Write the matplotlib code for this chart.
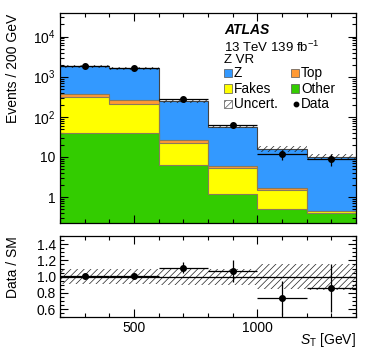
import numpy as np
import matplotlib
matplotlib.use("Agg")
import matplotlib.pyplot as plt
from matplotlib.ticker import FixedLocator, MultipleLocator, FuncFormatter, LogLocator, NullFormatter
from matplotlib.patches import Rectangle
from matplotlib.lines import Line2D

plt.rcParams['font.family'] = ['Liberation Sans', 'DejaVu Sans']
plt.rcParams['mathtext.fontset'] = 'custom'
plt.rcParams['mathtext.rm'] = 'Liberation Sans'
plt.rcParams['mathtext.it'] = 'Liberation Sans:italic'
plt.rcParams['mathtext.bf'] = 'Liberation Sans:bold'
plt.rcParams['hatch.linewidth'] = 0.5

# ---- data ----
bin_edges = [200, 400, 600, 800, 1000, 1200, 1400]
other = [40, 40, 6.3, 1.17, 0.49, 0.41]
fakes = [276, 163, 15.3, 4.0, 1.0, 0.03]
top = [54, 57, 5.4, 0.9, 0.15, 0.02]
zjets = [1430, 1360, 218, 50.9, 14.35, 9.74]
rel_unc = [0.09, 0.09, 0.10, 0.10, 0.15, 0.16]
data = [1810, 1630, 272, 61, 11.8, 8.8]
data_err = [42.5, 40.4, 16.5, 7.8, 3.4, 3.0]
legend_labels = ['Z', 'Fakes', 'Uncert.', 'Top', 'Other', 'Data']

col_z = '#3399ff'
col_top = '#ff9933'
col_fakes = '#ffff00'
col_other = '#33cc00'

FS = 10
LFS = 9.8

edges = np.array(bin_edges, dtype=float)
centers = 0.5 * (edges[1:] + edges[:-1])
halfw = 0.5 * (edges[1:] - edges[:-1])

W, H = 374, 359
fig = plt.figure(figsize=(W / 100, H / 100), dpi=100)
ax = fig.add_axes([60 / W, 1 - 222.7 / H, 296 / W, (222.7 - 13.3) / H])
rax = fig.add_axes([60 / W, 1 - 317.3 / H, 296 / W, (317.3 - 236) / H])

# ---- stack ----
comps = [(other, col_other), (fakes, col_fakes), (top, col_top), (zjets, col_z)]
cum = np.zeros(len(centers))
for vals, c in comps:
    lo = cum.copy()
    cum = cum + np.array(vals)
    lo_plot = np.where(lo <= 0, 1e-3, lo)
    ax.stairs(cum, edges, baseline=lo_plot, fill=True, facecolor=c, edgecolor='none', zorder=1)
cum = np.zeros(len(centers))
for vals, c in comps[:-1]:
    cum = cum + np.array(vals)
    ax.stairs(cum, edges, baseline=None, fill=False, edgecolor='#8a7a5a', lw=0.8, zorder=2)
total = cum + np.array(zjets)
ax.stairs(total, edges, baseline=None, fill=False, edgecolor='#444444', lw=0.8, zorder=2)

unc = np.array(rel_unc)
ax.stairs(total * (1 + unc), edges, baseline=total * (1 - unc), fill=True,
          facecolor='none', edgecolor='#222222', hatch='/////', lw=0, zorder=3)

d = np.array(data)
de = np.array(data_err)
ax.errorbar(centers, d, xerr=halfw, yerr=de, fmt='o', color='k', ms=4,
            elinewidth=0.9, capsize=0, zorder=5)

ax.set_yscale('log')
ax.set_xlim(200, 1400)
ax.set_ylim(0.229, 3.8e4)

def logfmt(v, pos):
    if v == 1:
        return '1'
    if v == 10:
        return '10'
    e = int(round(np.log10(v)))
    return r'$10^{%d}$' % e

ax.yaxis.set_major_locator(LogLocator(base=10, numticks=10))
ax.yaxis.set_major_formatter(FuncFormatter(logfmt))
ax.yaxis.set_minor_locator(LogLocator(base=10, subs=np.arange(2, 10), numticks=20))
ax.yaxis.set_minor_formatter(NullFormatter())

for a in (ax, rax):
    a.xaxis.set_major_locator(MultipleLocator(500))
    a.xaxis.set_minor_locator(MultipleLocator(100))
    a.tick_params(which='both', direction='in', top=True, right=True, labelsize=FS)
    a.tick_params(which='major', length=6, width=0.8)
    a.tick_params(which='minor', length=3, width=0.8)
    a.tick_params(axis='x', pad=3)
    a.tick_params(axis='y', pad=3)
    for s in a.spines.values():
        s.set_linewidth(0.9)
ax.tick_params(labelbottom=False)

ax.set_ylabel('Events / 200 GeV', fontsize=FS, ha='right', y=1.0)
ax.yaxis.set_label_coords(-0.135, 1.0)

# ---- labels & legend ----
def fx(px):
    return px / W

def fy(py):
    return 1 - py / H

fig.text(fx(224.5), fy(34), 'ATLAS', fontsize=10, fontweight='bold', fontstyle='italic', va='baseline')
fig.text(fx(224.5), fy(51.5), r'13 TeV 139 fb$^{-1}$', fontsize=9.5, va='baseline')
fig.text(fx(224.5), fy(63.3), 'Z VR', fontsize=9.5, va='baseline')

row_base = [77.3, 92.8, 108.0]
col_box = [224.5, 291.0]
col_txt = [234.0, 301.0]
box_w, box_h = 8.0, 8.5
entries = [
    (0, 0, 'box', col_z, None),
    (0, 1, 'box', col_fakes, None),
    (0, 2, 'box', 'white', '/////'),
    (1, 0, 'box', col_top, None),
    (1, 1, 'box', col_other, None),
    (1, 2, 'dot', 'k', None),
]
for (ci, ri, kind, c, hatch), lab in zip(entries, legend_labels):
    xb = col_box[ci]
    yb = row_base[ri]
    if kind == 'box':
        r = Rectangle((fx(xb), fy(yb)), box_w / W, box_h / H, transform=fig.transFigure,
                      facecolor=c, edgecolor='#555555', lw=0.5, hatch=hatch)
        fig.add_artist(r)
    else:
        fig.add_artist(Line2D([fx(xb + 4.5)], [fy(yb - 3.8)], marker='o', ms=3.2, color='k',
                              ls='none', transform=fig.transFigure))
    fig.text(fx(col_txt[ci]), fy(yb), lab, fontsize=LFS, va='baseline')

# ---- ratio ----
ratio = d / total
ratio_err = de / total
rax.stairs(1 + unc, edges, baseline=1 - unc, fill=True, facecolor='none',
           edgecolor='#222222', hatch='/////', lw=0, zorder=2)
rax.axhline(1.0, color='k', lw=0.9, zorder=3)
rax.errorbar(centers, ratio, xerr=halfw, yerr=ratio_err, fmt='o', color='k', ms=4,
             elinewidth=0.9, capsize=0, zorder=5)
rax.set_xlim(200, 1400)
rax.set_ylim(0.5, 1.5)
rax.yaxis.set_major_locator(FixedLocator([0.6, 0.8, 1.0, 1.2, 1.4]))
rax.yaxis.set_major_formatter(FuncFormatter(lambda v, p: '%.1f' % v))
rax.yaxis.set_minor_locator(MultipleLocator(0.05))
rax.set_ylabel('Data / SM', fontsize=FS, ha='right', y=1.0)
rax.yaxis.set_label_coords(-0.135, 1.0)
rax.set_xlabel(r'$S_{\rm T}$ [GeV]', fontsize=FS, ha='right', x=1.0, labelpad=-3)

fig.savefig('out.png', dpi=100)
